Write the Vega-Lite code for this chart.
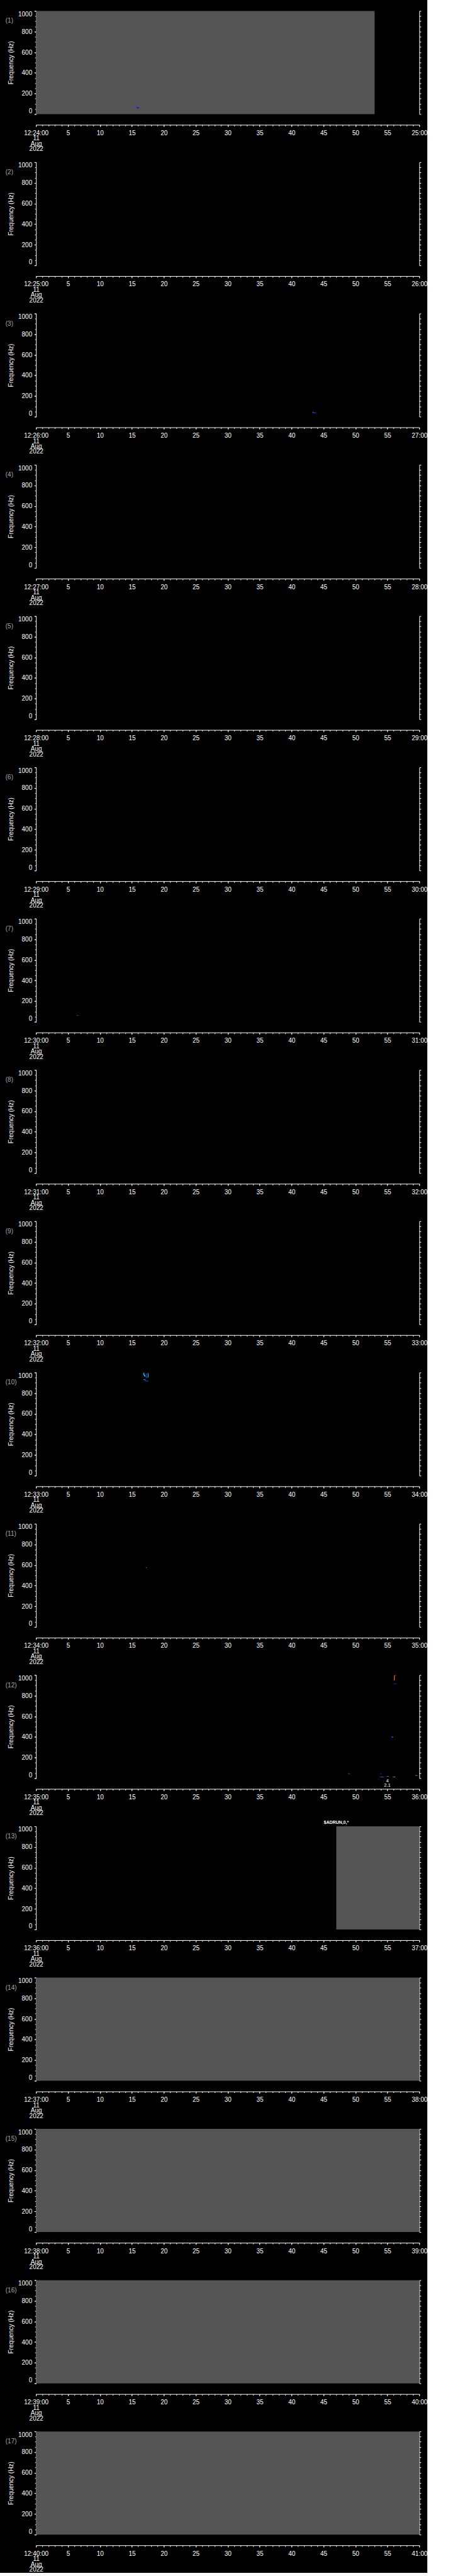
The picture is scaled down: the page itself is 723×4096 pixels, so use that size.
{
"$schema": "https://vega.github.io/schema/vega-lite/v6.json",
"background": "black",
"padding": {"left": 8.2, "top": 16.4, "right": 0, "bottom": 0},
"autosize": {"type": "pad"},
"config": {
 "view": {"continuousWidth": 609.1, "continuousHeight": 164, "stroke": null},
 "axis": {"domainColor": "#ffffff", "tickColor": "#ffffff", "labelColor": "#ffffff", "titleColor": "#ffffff", "labelFont": "Liberation Sans", "titleFont": "Liberation Sans", "labelFontSize": 10, "titleFontSize": 10, "titleFontWeight": "normal", "grid": false, "domainWidth": 1, "tickWidth": 1}
},
"datasets": {
 "cells": [
  {"p": 1, "t0": 0, "t1": 53.0, "f0": 0, "f1": 1000, "lv": "gap"},
  {"p": 1, "t0": 15.55, "t1": 15.85, "f0": 66, "f1": 73, "lv": "b"},
  {"p": 1, "t0": 15.75, "t1": 16.15, "f0": 58, "f1": 64, "lv": "db"},
  {"p": 3, "t0": 43.3, "t1": 43.45, "f0": 36, "f1": 48, "lv": "b"},
  {"p": 3, "t0": 43.3, "t1": 43.85, "f0": 34, "f1": 39, "lv": "b"},
  {"p": 7, "t0": 6.4, "t1": 6.55, "f0": 59, "f1": 64, "lv": "c"},
  {"p": 7, "t0": 6.55, "t1": 6.7, "f0": 59, "f1": 64, "lv": "db"},
  {"p": 10, "t0": 16.8, "t1": 16.95, "f0": 975, "f1": 997, "lv": "c"},
  {"p": 10, "t0": 16.9, "t1": 17.05, "f0": 965, "f1": 980, "lv": "c"},
  {"p": 10, "t0": 17.0, "t1": 17.1, "f0": 960, "f1": 970, "lv": "g"},
  {"p": 10, "t0": 17.2, "t1": 17.3, "f0": 950, "f1": 990, "lv": "b"},
  {"p": 10, "t0": 17.2, "t1": 17.5, "f0": 950, "f1": 956, "lv": "b"},
  {"p": 10, "t0": 17.5, "t1": 17.6, "f0": 952, "f1": 995, "lv": "c"},
  {"p": 10, "t0": 16.8, "t1": 17.1, "f0": 928, "f1": 934, "lv": "c"},
  {"p": 10, "t0": 17.1, "t1": 17.2, "f0": 916, "f1": 932, "lv": "b"},
  {"p": 10, "t0": 17.2, "t1": 17.6, "f0": 914, "f1": 920, "lv": "b"},
  {"p": 11, "t0": 17.2, "t1": 17.3, "f0": 571, "f1": 577, "lv": "o"},
  {"p": 11, "t0": 17.3, "t1": 17.45, "f0": 571, "f1": 577, "lv": "db"},
  {"p": 12, "t0": 56.05, "t1": 56.15, "f0": 950, "f1": 995, "lv": "o"},
  {"p": 12, "t0": 56.1, "t1": 56.35, "f0": 993, "f1": 1000, "lv": "r"},
  {"p": 12, "t0": 56.0, "t1": 56.08, "f0": 948, "f1": 953, "lv": "o"},
  {"p": 12, "t0": 56.0, "t1": 56.35, "f0": 913, "f1": 918, "lv": "b"},
  {"p": 12, "t0": 56.1, "t1": 56.2, "f0": 908, "f1": 914, "lv": "db"},
  {"p": 12, "t0": 55.65, "t1": 55.9, "f0": 396, "f1": 402, "lv": "c"},
  {"p": 12, "t0": 55.6, "t1": 55.7, "f0": 378, "f1": 398, "lv": "db"},
  {"p": 12, "t0": 48.9, "t1": 49.05, "f0": 42, "f1": 46, "lv": "g"},
  {"p": 12, "t0": 49.05, "t1": 49.2, "f0": 42, "f1": 46, "lv": "b"},
  {"p": 12, "t0": 53.85, "t1": 54.1, "f0": 42, "f1": 46, "lv": "b"},
  {"p": 12, "t0": 53.8, "t1": 53.95, "f0": 10, "f1": 15, "lv": "r"},
  {"p": 12, "t0": 53.95, "t1": 54.1, "f0": 10, "f1": 15, "lv": "b"},
  {"p": 12, "t0": 54.1, "t1": 54.3, "f0": 10, "f1": 15, "lv": "c"},
  {"p": 12, "t0": 54.3, "t1": 54.5, "f0": 10, "f1": 15, "lv": "b"},
  {"p": 12, "t0": 54.8, "t1": 55.0, "f0": 15, "f1": 19, "lv": "b"},
  {"p": 12, "t0": 55.0, "t1": 55.2, "f0": 15, "f1": 19, "lv": "y"},
  {"p": 12, "t0": 55.8, "t1": 56.0, "f0": 10, "f1": 15, "lv": "r"},
  {"p": 12, "t0": 56.0, "t1": 56.2, "f0": 10, "f1": 15, "lv": "y"},
  {"p": 12, "t0": 59.4, "t1": 59.55, "f0": 24, "f1": 28, "lv": "g"},
  {"p": 12, "t0": 59.55, "t1": 59.65, "f0": 24, "f1": 28, "lv": "y"},
  {"p": 12, "t0": 59.65, "t1": 59.8, "f0": 24, "f1": 28, "lv": "r"},
  {"p": 13, "t0": 47.0, "t1": 60, "f0": 0, "f1": 1000, "lv": "gap"},
  {"p": 14, "t0": 0, "t1": 60, "f0": 0, "f1": 1000, "lv": "gap"},
  {"p": 15, "t0": 0, "t1": 60, "f0": 0, "f1": 1000, "lv": "gap"},
  {"p": 16, "t0": 0, "t1": 60, "f0": 0, "f1": 1000, "lv": "gap"},
  {"p": 17, "t0": 0, "t1": 60, "f0": 0, "f1": 1000, "lv": "gap"}
 ],
 "panels": [
  {"p": 1, "label": "(1)"}, {"p": 2, "label": "(2)"}, {"p": 3, "label": "(3)"}, {"p": 4, "label": "(4)"},
  {"p": 5, "label": "(5)"}, {"p": 6, "label": "(6)"}, {"p": 7, "label": "(7)"}, {"p": 8, "label": "(8)"},
  {"p": 9, "label": "(9)"}, {"p": 10, "label": "(10)"}, {"p": 11, "label": "(11)"}, {"p": 12, "label": "(12)"},
  {"p": 13, "label": "(13)"}, {"p": 14, "label": "(14)"}, {"p": 15, "label": "(15)"}, {"p": 16, "label": "(16)"},
  {"p": 17, "label": "(17)"}
 ],
 "notes": [
  {"p": 12, "t": 55.0, "f": -30, "text": "4"},
  {"p": 12, "t": 55.0, "f": -70, "text": "2.1"},
  {"p": 13, "t": 47.0, "f": 1037, "text": "$ADRUN,0,*"}
 ]
},
"spacing": 76.55,
"bounds": "flush",
"vconcat": [
{"layer": [
 {"data": {"name": "cells"}, "transform": [{"filter": "datum.p == 1"}], "mark": "rect", "encoding": {
  "x": {"field": "t0", "type": "quantitative", "scale": {"domain": [0, 60], "nice": false, "zero": false}, "axis": {"orient": "bottom", "offset": 17, "values": [0,5,10,15,20,25,30,35,40,45,50,55,60], "tickSize": 3, "labelPadding": 5, "labelFlush": false, "labelOverlap": false, "labelBound": false, "labelBaseline": "top", "labelLineHeight": 8.5, "title": null, "labelExpr": "datum.value == 0 ? ['12:24:00','11','Aug','2022'] : datum.value == 60 ? '25:00' : datum.label"}},
  "x2": {"field": "t1"},
  "y": {"field": "f0", "type": "quantitative", "scale": {"domain": [0, 1000], "nice": false, "zero": false}, "axis": {"orient": "left", "format": "d", "values": [0,200,400,600,800,1000], "tickSize": 3, "labelPadding": 3.5, "labelFlush": true, "labelOverlap": false, "title": "Frequency (Hz)", "titleX": -40, "titleY": 82, "titleAngle": -90, "titleAlign": "center", "titleBaseline": "middle"}},
  "y2": {"field": "f1"},
  "color": {"field": "lv", "type": "nominal", "scale": {"domain": ["gap","db","b","c","g","y","o","r"], "range": ["#545454","#0000c8","#0058ff","#00c8ff","#70ff90","#ffe600","#ff9a00","#ff2000"]}, "legend": null}}},
 {"data": {"name": "panels"}, "transform": [{"filter": "datum.p == 1"}], "mark": {"type": "text", "align": "left", "baseline": "middle", "font": "Liberation Sans", "fontSize": 10, "color": "#a8a8a8"}, "encoding": {
  "text": {"field": "label"},
  "x": {"datum": -4.77, "type": "quantitative", "axis": {"orient": "bottom", "offset": 17, "tickCount": 60, "tickSize": 2, "labels": false, "domain": false, "title": null}},
  "y": {"datum": 902, "type": "quantitative", "axis": {"orient": "left", "tickCount": 20, "tickSize": 2, "labels": false, "domain": false, "title": null}}}},
 {"data": {"name": "panels"}, "transform": [{"filter": "datum.p == 1"}], "mark": {"type": "rule", "opacity": 0}, "encoding": {
  "y": {"datum": 0, "type": "quantitative", "axis": {"orient": "right", "tickCount": 20, "tickSize": 2.5, "labels": false, "domain": true, "title": null}}}}
], "resolve": {"axis": {"x": "independent", "y": "independent"}}},
{"layer": [
 {"data": {"name": "cells"}, "transform": [{"filter": "datum.p == 2"}], "mark": "rect", "encoding": {
  "x": {"field": "t0", "type": "quantitative", "scale": {"domain": [0, 60], "nice": false, "zero": false}, "axis": {"orient": "bottom", "offset": 17, "values": [0,5,10,15,20,25,30,35,40,45,50,55,60], "tickSize": 3, "labelPadding": 5, "labelFlush": false, "labelOverlap": false, "labelBound": false, "labelBaseline": "top", "labelLineHeight": 8.5, "title": null, "labelExpr": "datum.value == 0 ? ['12:25:00','11','Aug','2022'] : datum.value == 60 ? '26:00' : datum.label"}},
  "x2": {"field": "t1"},
  "y": {"field": "f0", "type": "quantitative", "scale": {"domain": [0, 1000], "nice": false, "zero": false}, "axis": {"orient": "left", "format": "d", "values": [0,200,400,600,800,1000], "tickSize": 3, "labelPadding": 3.5, "labelFlush": true, "labelOverlap": false, "title": "Frequency (Hz)", "titleX": -40, "titleY": 82, "titleAngle": -90, "titleAlign": "center", "titleBaseline": "middle"}},
  "y2": {"field": "f1"},
  "color": {"field": "lv", "type": "nominal", "scale": {"domain": ["gap","db","b","c","g","y","o","r"], "range": ["#545454","#0000c8","#0058ff","#00c8ff","#70ff90","#ffe600","#ff9a00","#ff2000"]}, "legend": null}}},
 {"data": {"name": "panels"}, "transform": [{"filter": "datum.p == 2"}], "mark": {"type": "text", "align": "left", "baseline": "middle", "font": "Liberation Sans", "fontSize": 10, "color": "#a8a8a8"}, "encoding": {
  "text": {"field": "label"},
  "x": {"datum": -4.77, "type": "quantitative", "axis": {"orient": "bottom", "offset": 17, "tickCount": 60, "tickSize": 2, "labels": false, "domain": false, "title": null}},
  "y": {"datum": 902, "type": "quantitative", "axis": {"orient": "left", "tickCount": 20, "tickSize": 2, "labels": false, "domain": false, "title": null}}}},
 {"data": {"name": "panels"}, "transform": [{"filter": "datum.p == 2"}], "mark": {"type": "rule", "opacity": 0}, "encoding": {
  "y": {"datum": 0, "type": "quantitative", "axis": {"orient": "right", "tickCount": 20, "tickSize": 2.5, "labels": false, "domain": true, "title": null}}}}
], "resolve": {"axis": {"x": "independent", "y": "independent"}}},
{"layer": [
 {"data": {"name": "cells"}, "transform": [{"filter": "datum.p == 3"}], "mark": "rect", "encoding": {
  "x": {"field": "t0", "type": "quantitative", "scale": {"domain": [0, 60], "nice": false, "zero": false}, "axis": {"orient": "bottom", "offset": 17, "values": [0,5,10,15,20,25,30,35,40,45,50,55,60], "tickSize": 3, "labelPadding": 5, "labelFlush": false, "labelOverlap": false, "labelBound": false, "labelBaseline": "top", "labelLineHeight": 8.5, "title": null, "labelExpr": "datum.value == 0 ? ['12:26:00','11','Aug','2022'] : datum.value == 60 ? '27:00' : datum.label"}},
  "x2": {"field": "t1"},
  "y": {"field": "f0", "type": "quantitative", "scale": {"domain": [0, 1000], "nice": false, "zero": false}, "axis": {"orient": "left", "format": "d", "values": [0,200,400,600,800,1000], "tickSize": 3, "labelPadding": 3.5, "labelFlush": true, "labelOverlap": false, "title": "Frequency (Hz)", "titleX": -40, "titleY": 82, "titleAngle": -90, "titleAlign": "center", "titleBaseline": "middle"}},
  "y2": {"field": "f1"},
  "color": {"field": "lv", "type": "nominal", "scale": {"domain": ["gap","db","b","c","g","y","o","r"], "range": ["#545454","#0000c8","#0058ff","#00c8ff","#70ff90","#ffe600","#ff9a00","#ff2000"]}, "legend": null}}},
 {"data": {"name": "panels"}, "transform": [{"filter": "datum.p == 3"}], "mark": {"type": "text", "align": "left", "baseline": "middle", "font": "Liberation Sans", "fontSize": 10, "color": "#a8a8a8"}, "encoding": {
  "text": {"field": "label"},
  "x": {"datum": -4.77, "type": "quantitative", "axis": {"orient": "bottom", "offset": 17, "tickCount": 60, "tickSize": 2, "labels": false, "domain": false, "title": null}},
  "y": {"datum": 902, "type": "quantitative", "axis": {"orient": "left", "tickCount": 20, "tickSize": 2, "labels": false, "domain": false, "title": null}}}},
 {"data": {"name": "panels"}, "transform": [{"filter": "datum.p == 3"}], "mark": {"type": "rule", "opacity": 0}, "encoding": {
  "y": {"datum": 0, "type": "quantitative", "axis": {"orient": "right", "tickCount": 20, "tickSize": 2.5, "labels": false, "domain": true, "title": null}}}}
], "resolve": {"axis": {"x": "independent", "y": "independent"}}},
{"layer": [
 {"data": {"name": "cells"}, "transform": [{"filter": "datum.p == 4"}], "mark": "rect", "encoding": {
  "x": {"field": "t0", "type": "quantitative", "scale": {"domain": [0, 60], "nice": false, "zero": false}, "axis": {"orient": "bottom", "offset": 17, "values": [0,5,10,15,20,25,30,35,40,45,50,55,60], "tickSize": 3, "labelPadding": 5, "labelFlush": false, "labelOverlap": false, "labelBound": false, "labelBaseline": "top", "labelLineHeight": 8.5, "title": null, "labelExpr": "datum.value == 0 ? ['12:27:00','11','Aug','2022'] : datum.value == 60 ? '28:00' : datum.label"}},
  "x2": {"field": "t1"},
  "y": {"field": "f0", "type": "quantitative", "scale": {"domain": [0, 1000], "nice": false, "zero": false}, "axis": {"orient": "left", "format": "d", "values": [0,200,400,600,800,1000], "tickSize": 3, "labelPadding": 3.5, "labelFlush": true, "labelOverlap": false, "title": "Frequency (Hz)", "titleX": -40, "titleY": 82, "titleAngle": -90, "titleAlign": "center", "titleBaseline": "middle"}},
  "y2": {"field": "f1"},
  "color": {"field": "lv", "type": "nominal", "scale": {"domain": ["gap","db","b","c","g","y","o","r"], "range": ["#545454","#0000c8","#0058ff","#00c8ff","#70ff90","#ffe600","#ff9a00","#ff2000"]}, "legend": null}}},
 {"data": {"name": "panels"}, "transform": [{"filter": "datum.p == 4"}], "mark": {"type": "text", "align": "left", "baseline": "middle", "font": "Liberation Sans", "fontSize": 10, "color": "#a8a8a8"}, "encoding": {
  "text": {"field": "label"},
  "x": {"datum": -4.77, "type": "quantitative", "axis": {"orient": "bottom", "offset": 17, "tickCount": 60, "tickSize": 2, "labels": false, "domain": false, "title": null}},
  "y": {"datum": 902, "type": "quantitative", "axis": {"orient": "left", "tickCount": 20, "tickSize": 2, "labels": false, "domain": false, "title": null}}}},
 {"data": {"name": "panels"}, "transform": [{"filter": "datum.p == 4"}], "mark": {"type": "rule", "opacity": 0}, "encoding": {
  "y": {"datum": 0, "type": "quantitative", "axis": {"orient": "right", "tickCount": 20, "tickSize": 2.5, "labels": false, "domain": true, "title": null}}}}
], "resolve": {"axis": {"x": "independent", "y": "independent"}}},
{"layer": [
 {"data": {"name": "cells"}, "transform": [{"filter": "datum.p == 5"}], "mark": "rect", "encoding": {
  "x": {"field": "t0", "type": "quantitative", "scale": {"domain": [0, 60], "nice": false, "zero": false}, "axis": {"orient": "bottom", "offset": 17, "values": [0,5,10,15,20,25,30,35,40,45,50,55,60], "tickSize": 3, "labelPadding": 5, "labelFlush": false, "labelOverlap": false, "labelBound": false, "labelBaseline": "top", "labelLineHeight": 8.5, "title": null, "labelExpr": "datum.value == 0 ? ['12:28:00','11','Aug','2022'] : datum.value == 60 ? '29:00' : datum.label"}},
  "x2": {"field": "t1"},
  "y": {"field": "f0", "type": "quantitative", "scale": {"domain": [0, 1000], "nice": false, "zero": false}, "axis": {"orient": "left", "format": "d", "values": [0,200,400,600,800,1000], "tickSize": 3, "labelPadding": 3.5, "labelFlush": true, "labelOverlap": false, "title": "Frequency (Hz)", "titleX": -40, "titleY": 82, "titleAngle": -90, "titleAlign": "center", "titleBaseline": "middle"}},
  "y2": {"field": "f1"},
  "color": {"field": "lv", "type": "nominal", "scale": {"domain": ["gap","db","b","c","g","y","o","r"], "range": ["#545454","#0000c8","#0058ff","#00c8ff","#70ff90","#ffe600","#ff9a00","#ff2000"]}, "legend": null}}},
 {"data": {"name": "panels"}, "transform": [{"filter": "datum.p == 5"}], "mark": {"type": "text", "align": "left", "baseline": "middle", "font": "Liberation Sans", "fontSize": 10, "color": "#a8a8a8"}, "encoding": {
  "text": {"field": "label"},
  "x": {"datum": -4.77, "type": "quantitative", "axis": {"orient": "bottom", "offset": 17, "tickCount": 60, "tickSize": 2, "labels": false, "domain": false, "title": null}},
  "y": {"datum": 902, "type": "quantitative", "axis": {"orient": "left", "tickCount": 20, "tickSize": 2, "labels": false, "domain": false, "title": null}}}},
 {"data": {"name": "panels"}, "transform": [{"filter": "datum.p == 5"}], "mark": {"type": "rule", "opacity": 0}, "encoding": {
  "y": {"datum": 0, "type": "quantitative", "axis": {"orient": "right", "tickCount": 20, "tickSize": 2.5, "labels": false, "domain": true, "title": null}}}}
], "resolve": {"axis": {"x": "independent", "y": "independent"}}},
{"layer": [
 {"data": {"name": "cells"}, "transform": [{"filter": "datum.p == 6"}], "mark": "rect", "encoding": {
  "x": {"field": "t0", "type": "quantitative", "scale": {"domain": [0, 60], "nice": false, "zero": false}, "axis": {"orient": "bottom", "offset": 17, "values": [0,5,10,15,20,25,30,35,40,45,50,55,60], "tickSize": 3, "labelPadding": 5, "labelFlush": false, "labelOverlap": false, "labelBound": false, "labelBaseline": "top", "labelLineHeight": 8.5, "title": null, "labelExpr": "datum.value == 0 ? ['12:29:00','11','Aug','2022'] : datum.value == 60 ? '30:00' : datum.label"}},
  "x2": {"field": "t1"},
  "y": {"field": "f0", "type": "quantitative", "scale": {"domain": [0, 1000], "nice": false, "zero": false}, "axis": {"orient": "left", "format": "d", "values": [0,200,400,600,800,1000], "tickSize": 3, "labelPadding": 3.5, "labelFlush": true, "labelOverlap": false, "title": "Frequency (Hz)", "titleX": -40, "titleY": 82, "titleAngle": -90, "titleAlign": "center", "titleBaseline": "middle"}},
  "y2": {"field": "f1"},
  "color": {"field": "lv", "type": "nominal", "scale": {"domain": ["gap","db","b","c","g","y","o","r"], "range": ["#545454","#0000c8","#0058ff","#00c8ff","#70ff90","#ffe600","#ff9a00","#ff2000"]}, "legend": null}}},
 {"data": {"name": "panels"}, "transform": [{"filter": "datum.p == 6"}], "mark": {"type": "text", "align": "left", "baseline": "middle", "font": "Liberation Sans", "fontSize": 10, "color": "#a8a8a8"}, "encoding": {
  "text": {"field": "label"},
  "x": {"datum": -4.77, "type": "quantitative", "axis": {"orient": "bottom", "offset": 17, "tickCount": 60, "tickSize": 2, "labels": false, "domain": false, "title": null}},
  "y": {"datum": 902, "type": "quantitative", "axis": {"orient": "left", "tickCount": 20, "tickSize": 2, "labels": false, "domain": false, "title": null}}}},
 {"data": {"name": "panels"}, "transform": [{"filter": "datum.p == 6"}], "mark": {"type": "rule", "opacity": 0}, "encoding": {
  "y": {"datum": 0, "type": "quantitative", "axis": {"orient": "right", "tickCount": 20, "tickSize": 2.5, "labels": false, "domain": true, "title": null}}}}
], "resolve": {"axis": {"x": "independent", "y": "independent"}}},
{"layer": [
 {"data": {"name": "cells"}, "transform": [{"filter": "datum.p == 7"}], "mark": "rect", "encoding": {
  "x": {"field": "t0", "type": "quantitative", "scale": {"domain": [0, 60], "nice": false, "zero": false}, "axis": {"orient": "bottom", "offset": 17, "values": [0,5,10,15,20,25,30,35,40,45,50,55,60], "tickSize": 3, "labelPadding": 5, "labelFlush": false, "labelOverlap": false, "labelBound": false, "labelBaseline": "top", "labelLineHeight": 8.5, "title": null, "labelExpr": "datum.value == 0 ? ['12:30:00','11','Aug','2022'] : datum.value == 60 ? '31:00' : datum.label"}},
  "x2": {"field": "t1"},
  "y": {"field": "f0", "type": "quantitative", "scale": {"domain": [0, 1000], "nice": false, "zero": false}, "axis": {"orient": "left", "format": "d", "values": [0,200,400,600,800,1000], "tickSize": 3, "labelPadding": 3.5, "labelFlush": true, "labelOverlap": false, "title": "Frequency (Hz)", "titleX": -40, "titleY": 82, "titleAngle": -90, "titleAlign": "center", "titleBaseline": "middle"}},
  "y2": {"field": "f1"},
  "color": {"field": "lv", "type": "nominal", "scale": {"domain": ["gap","db","b","c","g","y","o","r"], "range": ["#545454","#0000c8","#0058ff","#00c8ff","#70ff90","#ffe600","#ff9a00","#ff2000"]}, "legend": null}}},
 {"data": {"name": "panels"}, "transform": [{"filter": "datum.p == 7"}], "mark": {"type": "text", "align": "left", "baseline": "middle", "font": "Liberation Sans", "fontSize": 10, "color": "#a8a8a8"}, "encoding": {
  "text": {"field": "label"},
  "x": {"datum": -4.77, "type": "quantitative", "axis": {"orient": "bottom", "offset": 17, "tickCount": 60, "tickSize": 2, "labels": false, "domain": false, "title": null}},
  "y": {"datum": 902, "type": "quantitative", "axis": {"orient": "left", "tickCount": 20, "tickSize": 2, "labels": false, "domain": false, "title": null}}}},
 {"data": {"name": "panels"}, "transform": [{"filter": "datum.p == 7"}], "mark": {"type": "rule", "opacity": 0}, "encoding": {
  "y": {"datum": 0, "type": "quantitative", "axis": {"orient": "right", "tickCount": 20, "tickSize": 2.5, "labels": false, "domain": true, "title": null}}}}
], "resolve": {"axis": {"x": "independent", "y": "independent"}}},
{"layer": [
 {"data": {"name": "cells"}, "transform": [{"filter": "datum.p == 8"}], "mark": "rect", "encoding": {
  "x": {"field": "t0", "type": "quantitative", "scale": {"domain": [0, 60], "nice": false, "zero": false}, "axis": {"orient": "bottom", "offset": 17, "values": [0,5,10,15,20,25,30,35,40,45,50,55,60], "tickSize": 3, "labelPadding": 5, "labelFlush": false, "labelOverlap": false, "labelBound": false, "labelBaseline": "top", "labelLineHeight": 8.5, "title": null, "labelExpr": "datum.value == 0 ? ['12:31:00','11','Aug','2022'] : datum.value == 60 ? '32:00' : datum.label"}},
  "x2": {"field": "t1"},
  "y": {"field": "f0", "type": "quantitative", "scale": {"domain": [0, 1000], "nice": false, "zero": false}, "axis": {"orient": "left", "format": "d", "values": [0,200,400,600,800,1000], "tickSize": 3, "labelPadding": 3.5, "labelFlush": true, "labelOverlap": false, "title": "Frequency (Hz)", "titleX": -40, "titleY": 82, "titleAngle": -90, "titleAlign": "center", "titleBaseline": "middle"}},
  "y2": {"field": "f1"},
  "color": {"field": "lv", "type": "nominal", "scale": {"domain": ["gap","db","b","c","g","y","o","r"], "range": ["#545454","#0000c8","#0058ff","#00c8ff","#70ff90","#ffe600","#ff9a00","#ff2000"]}, "legend": null}}},
 {"data": {"name": "panels"}, "transform": [{"filter": "datum.p == 8"}], "mark": {"type": "text", "align": "left", "baseline": "middle", "font": "Liberation Sans", "fontSize": 10, "color": "#a8a8a8"}, "encoding": {
  "text": {"field": "label"},
  "x": {"datum": -4.77, "type": "quantitative", "axis": {"orient": "bottom", "offset": 17, "tickCount": 60, "tickSize": 2, "labels": false, "domain": false, "title": null}},
  "y": {"datum": 902, "type": "quantitative", "axis": {"orient": "left", "tickCount": 20, "tickSize": 2, "labels": false, "domain": false, "title": null}}}},
 {"data": {"name": "panels"}, "transform": [{"filter": "datum.p == 8"}], "mark": {"type": "rule", "opacity": 0}, "encoding": {
  "y": {"datum": 0, "type": "quantitative", "axis": {"orient": "right", "tickCount": 20, "tickSize": 2.5, "labels": false, "domain": true, "title": null}}}}
], "resolve": {"axis": {"x": "independent", "y": "independent"}}},
{"layer": [
 {"data": {"name": "cells"}, "transform": [{"filter": "datum.p == 9"}], "mark": "rect", "encoding": {
  "x": {"field": "t0", "type": "quantitative", "scale": {"domain": [0, 60], "nice": false, "zero": false}, "axis": {"orient": "bottom", "offset": 17, "values": [0,5,10,15,20,25,30,35,40,45,50,55,60], "tickSize": 3, "labelPadding": 5, "labelFlush": false, "labelOverlap": false, "labelBound": false, "labelBaseline": "top", "labelLineHeight": 8.5, "title": null, "labelExpr": "datum.value == 0 ? ['12:32:00','11','Aug','2022'] : datum.value == 60 ? '33:00' : datum.label"}},
  "x2": {"field": "t1"},
  "y": {"field": "f0", "type": "quantitative", "scale": {"domain": [0, 1000], "nice": false, "zero": false}, "axis": {"orient": "left", "format": "d", "values": [0,200,400,600,800,1000], "tickSize": 3, "labelPadding": 3.5, "labelFlush": true, "labelOverlap": false, "title": "Frequency (Hz)", "titleX": -40, "titleY": 82, "titleAngle": -90, "titleAlign": "center", "titleBaseline": "middle"}},
  "y2": {"field": "f1"},
  "color": {"field": "lv", "type": "nominal", "scale": {"domain": ["gap","db","b","c","g","y","o","r"], "range": ["#545454","#0000c8","#0058ff","#00c8ff","#70ff90","#ffe600","#ff9a00","#ff2000"]}, "legend": null}}},
 {"data": {"name": "panels"}, "transform": [{"filter": "datum.p == 9"}], "mark": {"type": "text", "align": "left", "baseline": "middle", "font": "Liberation Sans", "fontSize": 10, "color": "#a8a8a8"}, "encoding": {
  "text": {"field": "label"},
  "x": {"datum": -4.77, "type": "quantitative", "axis": {"orient": "bottom", "offset": 17, "tickCount": 60, "tickSize": 2, "labels": false, "domain": false, "title": null}},
  "y": {"datum": 902, "type": "quantitative", "axis": {"orient": "left", "tickCount": 20, "tickSize": 2, "labels": false, "domain": false, "title": null}}}},
 {"data": {"name": "panels"}, "transform": [{"filter": "datum.p == 9"}], "mark": {"type": "rule", "opacity": 0}, "encoding": {
  "y": {"datum": 0, "type": "quantitative", "axis": {"orient": "right", "tickCount": 20, "tickSize": 2.5, "labels": false, "domain": true, "title": null}}}}
], "resolve": {"axis": {"x": "independent", "y": "independent"}}},
{"layer": [
 {"data": {"name": "cells"}, "transform": [{"filter": "datum.p == 10"}], "mark": "rect", "encoding": {
  "x": {"field": "t0", "type": "quantitative", "scale": {"domain": [0, 60], "nice": false, "zero": false}, "axis": {"orient": "bottom", "offset": 17, "values": [0,5,10,15,20,25,30,35,40,45,50,55,60], "tickSize": 3, "labelPadding": 5, "labelFlush": false, "labelOverlap": false, "labelBound": false, "labelBaseline": "top", "labelLineHeight": 8.5, "title": null, "labelExpr": "datum.value == 0 ? ['12:33:00','11','Aug','2022'] : datum.value == 60 ? '34:00' : datum.label"}},
  "x2": {"field": "t1"},
  "y": {"field": "f0", "type": "quantitative", "scale": {"domain": [0, 1000], "nice": false, "zero": false}, "axis": {"orient": "left", "format": "d", "values": [0,200,400,600,800,1000], "tickSize": 3, "labelPadding": 3.5, "labelFlush": true, "labelOverlap": false, "title": "Frequency (Hz)", "titleX": -40, "titleY": 82, "titleAngle": -90, "titleAlign": "center", "titleBaseline": "middle"}},
  "y2": {"field": "f1"},
  "color": {"field": "lv", "type": "nominal", "scale": {"domain": ["gap","db","b","c","g","y","o","r"], "range": ["#545454","#0000c8","#0058ff","#00c8ff","#70ff90","#ffe600","#ff9a00","#ff2000"]}, "legend": null}}},
 {"data": {"name": "panels"}, "transform": [{"filter": "datum.p == 10"}], "mark": {"type": "text", "align": "left", "baseline": "middle", "font": "Liberation Sans", "fontSize": 10, "color": "#a8a8a8"}, "encoding": {
  "text": {"field": "label"},
  "x": {"datum": -4.77, "type": "quantitative", "axis": {"orient": "bottom", "offset": 17, "tickCount": 60, "tickSize": 2, "labels": false, "domain": false, "title": null}},
  "y": {"datum": 902, "type": "quantitative", "axis": {"orient": "left", "tickCount": 20, "tickSize": 2, "labels": false, "domain": false, "title": null}}}},
 {"data": {"name": "panels"}, "transform": [{"filter": "datum.p == 10"}], "mark": {"type": "rule", "opacity": 0}, "encoding": {
  "y": {"datum": 0, "type": "quantitative", "axis": {"orient": "right", "tickCount": 20, "tickSize": 2.5, "labels": false, "domain": true, "title": null}}}}
], "resolve": {"axis": {"x": "independent", "y": "independent"}}},
{"layer": [
 {"data": {"name": "cells"}, "transform": [{"filter": "datum.p == 11"}], "mark": "rect", "encoding": {
  "x": {"field": "t0", "type": "quantitative", "scale": {"domain": [0, 60], "nice": false, "zero": false}, "axis": {"orient": "bottom", "offset": 17, "values": [0,5,10,15,20,25,30,35,40,45,50,55,60], "tickSize": 3, "labelPadding": 5, "labelFlush": false, "labelOverlap": false, "labelBound": false, "labelBaseline": "top", "labelLineHeight": 8.5, "title": null, "labelExpr": "datum.value == 0 ? ['12:34:00','11','Aug','2022'] : datum.value == 60 ? '35:00' : datum.label"}},
  "x2": {"field": "t1"},
  "y": {"field": "f0", "type": "quantitative", "scale": {"domain": [0, 1000], "nice": false, "zero": false}, "axis": {"orient": "left", "format": "d", "values": [0,200,400,600,800,1000], "tickSize": 3, "labelPadding": 3.5, "labelFlush": true, "labelOverlap": false, "title": "Frequency (Hz)", "titleX": -40, "titleY": 82, "titleAngle": -90, "titleAlign": "center", "titleBaseline": "middle"}},
  "y2": {"field": "f1"},
  "color": {"field": "lv", "type": "nominal", "scale": {"domain": ["gap","db","b","c","g","y","o","r"], "range": ["#545454","#0000c8","#0058ff","#00c8ff","#70ff90","#ffe600","#ff9a00","#ff2000"]}, "legend": null}}},
 {"data": {"name": "panels"}, "transform": [{"filter": "datum.p == 11"}], "mark": {"type": "text", "align": "left", "baseline": "middle", "font": "Liberation Sans", "fontSize": 10, "color": "#a8a8a8"}, "encoding": {
  "text": {"field": "label"},
  "x": {"datum": -4.77, "type": "quantitative", "axis": {"orient": "bottom", "offset": 17, "tickCount": 60, "tickSize": 2, "labels": false, "domain": false, "title": null}},
  "y": {"datum": 902, "type": "quantitative", "axis": {"orient": "left", "tickCount": 20, "tickSize": 2, "labels": false, "domain": false, "title": null}}}},
 {"data": {"name": "panels"}, "transform": [{"filter": "datum.p == 11"}], "mark": {"type": "rule", "opacity": 0}, "encoding": {
  "y": {"datum": 0, "type": "quantitative", "axis": {"orient": "right", "tickCount": 20, "tickSize": 2.5, "labels": false, "domain": true, "title": null}}}}
], "resolve": {"axis": {"x": "independent", "y": "independent"}}},
{"layer": [
 {"data": {"name": "cells"}, "transform": [{"filter": "datum.p == 12"}], "mark": "rect", "encoding": {
  "x": {"field": "t0", "type": "quantitative", "scale": {"domain": [0, 60], "nice": false, "zero": false}, "axis": {"orient": "bottom", "offset": 17, "values": [0,5,10,15,20,25,30,35,40,45,50,55,60], "tickSize": 3, "labelPadding": 5, "labelFlush": false, "labelOverlap": false, "labelBound": false, "labelBaseline": "top", "labelLineHeight": 8.5, "title": null, "labelExpr": "datum.value == 0 ? ['12:35:00','11','Aug','2022'] : datum.value == 60 ? '36:00' : datum.label"}},
  "x2": {"field": "t1"},
  "y": {"field": "f0", "type": "quantitative", "scale": {"domain": [0, 1000], "nice": false, "zero": false}, "axis": {"orient": "left", "format": "d", "values": [0,200,400,600,800,1000], "tickSize": 3, "labelPadding": 3.5, "labelFlush": true, "labelOverlap": false, "title": "Frequency (Hz)", "titleX": -40, "titleY": 82, "titleAngle": -90, "titleAlign": "center", "titleBaseline": "middle"}},
  "y2": {"field": "f1"},
  "color": {"field": "lv", "type": "nominal", "scale": {"domain": ["gap","db","b","c","g","y","o","r"], "range": ["#545454","#0000c8","#0058ff","#00c8ff","#70ff90","#ffe600","#ff9a00","#ff2000"]}, "legend": null}}},
 {"data": {"name": "panels"}, "transform": [{"filter": "datum.p == 12"}], "mark": {"type": "text", "align": "left", "baseline": "middle", "font": "Liberation Sans", "fontSize": 10, "color": "#a8a8a8"}, "encoding": {
  "text": {"field": "label"},
  "x": {"datum": -4.77, "type": "quantitative", "axis": {"orient": "bottom", "offset": 17, "tickCount": 60, "tickSize": 2, "labels": false, "domain": false, "title": null}},
  "y": {"datum": 902, "type": "quantitative", "axis": {"orient": "left", "tickCount": 20, "tickSize": 2, "labels": false, "domain": false, "title": null}}}},
 {"data": {"name": "panels"}, "transform": [{"filter": "datum.p == 12"}], "mark": {"type": "rule", "opacity": 0}, "encoding": {
  "y": {"datum": 0, "type": "quantitative", "axis": {"orient": "right", "tickCount": 20, "tickSize": 2.5, "labels": false, "domain": true, "title": null}}}},
 {"data": {"name": "notes"}, "transform": [{"filter": "datum.p == 12"}], "mark": {"type": "text", "align": "center", "baseline": "middle", "font": "Liberation Sans", "fontSize": 7.5, "color": "#ffffff"}, "encoding": {
  "text": {"field": "text"},
  "x": {"field": "t", "type": "quantitative", "axis": null},
  "y": {"field": "f", "type": "quantitative", "axis": null}}}
], "resolve": {"axis": {"x": "independent", "y": "independent"}}},
{"layer": [
 {"data": {"name": "cells"}, "transform": [{"filter": "datum.p == 13"}], "mark": "rect", "encoding": {
  "x": {"field": "t0", "type": "quantitative", "scale": {"domain": [0, 60], "nice": false, "zero": false}, "axis": {"orient": "bottom", "offset": 17, "values": [0,5,10,15,20,25,30,35,40,45,50,55,60], "tickSize": 3, "labelPadding": 5, "labelFlush": false, "labelOverlap": false, "labelBound": false, "labelBaseline": "top", "labelLineHeight": 8.5, "title": null, "labelExpr": "datum.value == 0 ? ['12:36:00','11','Aug','2022'] : datum.value == 60 ? '37:00' : datum.label"}},
  "x2": {"field": "t1"},
  "y": {"field": "f0", "type": "quantitative", "scale": {"domain": [0, 1000], "nice": false, "zero": false}, "axis": {"orient": "left", "format": "d", "values": [0,200,400,600,800,1000], "tickSize": 3, "labelPadding": 3.5, "labelFlush": true, "labelOverlap": false, "title": "Frequency (Hz)", "titleX": -40, "titleY": 82, "titleAngle": -90, "titleAlign": "center", "titleBaseline": "middle"}},
  "y2": {"field": "f1"},
  "color": {"field": "lv", "type": "nominal", "scale": {"domain": ["gap","db","b","c","g","y","o","r"], "range": ["#545454","#0000c8","#0058ff","#00c8ff","#70ff90","#ffe600","#ff9a00","#ff2000"]}, "legend": null}}},
 {"data": {"name": "panels"}, "transform": [{"filter": "datum.p == 13"}], "mark": {"type": "text", "align": "left", "baseline": "middle", "font": "Liberation Sans", "fontSize": 10, "color": "#a8a8a8"}, "encoding": {
  "text": {"field": "label"},
  "x": {"datum": -4.77, "type": "quantitative", "axis": {"orient": "bottom", "offset": 17, "tickCount": 60, "tickSize": 2, "labels": false, "domain": false, "title": null}},
  "y": {"datum": 902, "type": "quantitative", "axis": {"orient": "left", "tickCount": 20, "tickSize": 2, "labels": false, "domain": false, "title": null}}}},
 {"data": {"name": "panels"}, "transform": [{"filter": "datum.p == 13"}], "mark": {"type": "rule", "opacity": 0}, "encoding": {
  "y": {"datum": 0, "type": "quantitative", "axis": {"orient": "right", "tickCount": 20, "tickSize": 2.5, "labels": false, "domain": true, "title": null}}}},
 {"data": {"name": "notes"}, "transform": [{"filter": "datum.p == 13"}], "mark": {"type": "text", "align": "center", "baseline": "middle", "font": "Liberation Sans", "fontSize": 7, "fontWeight": "bold", "color": "#ffffff"}, "encoding": {
  "text": {"field": "text"},
  "x": {"field": "t", "type": "quantitative", "axis": null},
  "y": {"field": "f", "type": "quantitative", "axis": null}}}
], "resolve": {"axis": {"x": "independent", "y": "independent"}}},
{"layer": [
 {"data": {"name": "cells"}, "transform": [{"filter": "datum.p == 14"}], "mark": "rect", "encoding": {
  "x": {"field": "t0", "type": "quantitative", "scale": {"domain": [0, 60], "nice": false, "zero": false}, "axis": {"orient": "bottom", "offset": 17, "values": [0,5,10,15,20,25,30,35,40,45,50,55,60], "tickSize": 3, "labelPadding": 5, "labelFlush": false, "labelOverlap": false, "labelBound": false, "labelBaseline": "top", "labelLineHeight": 8.5, "title": null, "labelExpr": "datum.value == 0 ? ['12:37:00','11','Aug','2022'] : datum.value == 60 ? '38:00' : datum.label"}},
  "x2": {"field": "t1"},
  "y": {"field": "f0", "type": "quantitative", "scale": {"domain": [0, 1000], "nice": false, "zero": false}, "axis": {"orient": "left", "format": "d", "values": [0,200,400,600,800,1000], "tickSize": 3, "labelPadding": 3.5, "labelFlush": true, "labelOverlap": false, "title": "Frequency (Hz)", "titleX": -40, "titleY": 82, "titleAngle": -90, "titleAlign": "center", "titleBaseline": "middle"}},
  "y2": {"field": "f1"},
  "color": {"field": "lv", "type": "nominal", "scale": {"domain": ["gap","db","b","c","g","y","o","r"], "range": ["#545454","#0000c8","#0058ff","#00c8ff","#70ff90","#ffe600","#ff9a00","#ff2000"]}, "legend": null}}},
 {"data": {"name": "panels"}, "transform": [{"filter": "datum.p == 14"}], "mark": {"type": "text", "align": "left", "baseline": "middle", "font": "Liberation Sans", "fontSize": 10, "color": "#a8a8a8"}, "encoding": {
  "text": {"field": "label"},
  "x": {"datum": -4.77, "type": "quantitative", "axis": {"orient": "bottom", "offset": 17, "tickCount": 60, "tickSize": 2, "labels": false, "domain": false, "title": null}},
  "y": {"datum": 902, "type": "quantitative", "axis": {"orient": "left", "tickCount": 20, "tickSize": 2, "labels": false, "domain": false, "title": null}}}},
 {"data": {"name": "panels"}, "transform": [{"filter": "datum.p == 14"}], "mark": {"type": "rule", "opacity": 0}, "encoding": {
  "y": {"datum": 0, "type": "quantitative", "axis": {"orient": "right", "tickCount": 20, "tickSize": 2.5, "labels": false, "domain": true, "title": null}}}}
], "resolve": {"axis": {"x": "independent", "y": "independent"}}},
{"layer": [
 {"data": {"name": "cells"}, "transform": [{"filter": "datum.p == 15"}], "mark": "rect", "encoding": {
  "x": {"field": "t0", "type": "quantitative", "scale": {"domain": [0, 60], "nice": false, "zero": false}, "axis": {"orient": "bottom", "offset": 17, "values": [0,5,10,15,20,25,30,35,40,45,50,55,60], "tickSize": 3, "labelPadding": 5, "labelFlush": false, "labelOverlap": false, "labelBound": false, "labelBaseline": "top", "labelLineHeight": 8.5, "title": null, "labelExpr": "datum.value == 0 ? ['12:38:00','11','Aug','2022'] : datum.value == 60 ? '39:00' : datum.label"}},
  "x2": {"field": "t1"},
  "y": {"field": "f0", "type": "quantitative", "scale": {"domain": [0, 1000], "nice": false, "zero": false}, "axis": {"orient": "left", "format": "d", "values": [0,200,400,600,800,1000], "tickSize": 3, "labelPadding": 3.5, "labelFlush": true, "labelOverlap": false, "title": "Frequency (Hz)", "titleX": -40, "titleY": 82, "titleAngle": -90, "titleAlign": "center", "titleBaseline": "middle"}},
  "y2": {"field": "f1"},
  "color": {"field": "lv", "type": "nominal", "scale": {"domain": ["gap","db","b","c","g","y","o","r"], "range": ["#545454","#0000c8","#0058ff","#00c8ff","#70ff90","#ffe600","#ff9a00","#ff2000"]}, "legend": null}}},
 {"data": {"name": "panels"}, "transform": [{"filter": "datum.p == 15"}], "mark": {"type": "text", "align": "left", "baseline": "middle", "font": "Liberation Sans", "fontSize": 10, "color": "#a8a8a8"}, "encoding": {
  "text": {"field": "label"},
  "x": {"datum": -4.77, "type": "quantitative", "axis": {"orient": "bottom", "offset": 17, "tickCount": 60, "tickSize": 2, "labels": false, "domain": false, "title": null}},
  "y": {"datum": 902, "type": "quantitative", "axis": {"orient": "left", "tickCount": 20, "tickSize": 2, "labels": false, "domain": false, "title": null}}}},
 {"data": {"name": "panels"}, "transform": [{"filter": "datum.p == 15"}], "mark": {"type": "rule", "opacity": 0}, "encoding": {
  "y": {"datum": 0, "type": "quantitative", "axis": {"orient": "right", "tickCount": 20, "tickSize": 2.5, "labels": false, "domain": true, "title": null}}}}
], "resolve": {"axis": {"x": "independent", "y": "independent"}}},
{"layer": [
 {"data": {"name": "cells"}, "transform": [{"filter": "datum.p == 16"}], "mark": "rect", "encoding": {
  "x": {"field": "t0", "type": "quantitative", "scale": {"domain": [0, 60], "nice": false, "zero": false}, "axis": {"orient": "bottom", "offset": 17, "values": [0,5,10,15,20,25,30,35,40,45,50,55,60], "tickSize": 3, "labelPadding": 5, "labelFlush": false, "labelOverlap": false, "labelBound": false, "labelBaseline": "top", "labelLineHeight": 8.5, "title": null, "labelExpr": "datum.value == 0 ? ['12:39:00','11','Aug','2022'] : datum.value == 60 ? '40:00' : datum.label"}},
  "x2": {"field": "t1"},
  "y": {"field": "f0", "type": "quantitative", "scale": {"domain": [0, 1000], "nice": false, "zero": false}, "axis": {"orient": "left", "format": "d", "values": [0,200,400,600,800,1000], "tickSize": 3, "labelPadding": 3.5, "labelFlush": true, "labelOverlap": false, "title": "Frequency (Hz)", "titleX": -40, "titleY": 82, "titleAngle": -90, "titleAlign": "center", "titleBaseline": "middle"}},
  "y2": {"field": "f1"},
  "color": {"field": "lv", "type": "nominal", "scale": {"domain": ["gap","db","b","c","g","y","o","r"], "range": ["#545454","#0000c8","#0058ff","#00c8ff","#70ff90","#ffe600","#ff9a00","#ff2000"]}, "legend": null}}},
 {"data": {"name": "panels"}, "transform": [{"filter": "datum.p == 16"}], "mark": {"type": "text", "align": "left", "baseline": "middle", "font": "Liberation Sans", "fontSize": 10, "color": "#a8a8a8"}, "encoding": {
  "text": {"field": "label"},
  "x": {"datum": -4.77, "type": "quantitative", "axis": {"orient": "bottom", "offset": 17, "tickCount": 60, "tickSize": 2, "labels": false, "domain": false, "title": null}},
  "y": {"datum": 902, "type": "quantitative", "axis": {"orient": "left", "tickCount": 20, "tickSize": 2, "labels": false, "domain": false, "title": null}}}},
 {"data": {"name": "panels"}, "transform": [{"filter": "datum.p == 16"}], "mark": {"type": "rule", "opacity": 0}, "encoding": {
  "y": {"datum": 0, "type": "quantitative", "axis": {"orient": "right", "tickCount": 20, "tickSize": 2.5, "labels": false, "domain": true, "title": null}}}}
], "resolve": {"axis": {"x": "independent", "y": "independent"}}},
{"layer": [
 {"data": {"name": "cells"}, "transform": [{"filter": "datum.p == 17"}], "mark": "rect", "encoding": {
  "x": {"field": "t0", "type": "quantitative", "scale": {"domain": [0, 60], "nice": false, "zero": false}, "axis": {"orient": "bottom", "offset": 17, "values": [0,5,10,15,20,25,30,35,40,45,50,55,60], "tickSize": 3, "labelPadding": 5, "labelFlush": false, "labelOverlap": false, "labelBound": false, "labelBaseline": "top", "labelLineHeight": 8.5, "title": null, "labelExpr": "datum.value == 0 ? ['12:40:00','11','Aug','2022'] : datum.value == 60 ? '41:00' : datum.label"}},
  "x2": {"field": "t1"},
  "y": {"field": "f0", "type": "quantitative", "scale": {"domain": [0, 1000], "nice": false, "zero": false}, "axis": {"orient": "left", "format": "d", "values": [0,200,400,600,800,1000], "tickSize": 3, "labelPadding": 3.5, "labelFlush": true, "labelOverlap": false, "title": "Frequency (Hz)", "titleX": -40, "titleY": 82, "titleAngle": -90, "titleAlign": "center", "titleBaseline": "middle"}},
  "y2": {"field": "f1"},
  "color": {"field": "lv", "type": "nominal", "scale": {"domain": ["gap","db","b","c","g","y","o","r"], "range": ["#545454","#0000c8","#0058ff","#00c8ff","#70ff90","#ffe600","#ff9a00","#ff2000"]}, "legend": null}}},
 {"data": {"name": "panels"}, "transform": [{"filter": "datum.p == 17"}], "mark": {"type": "text", "align": "left", "baseline": "middle", "font": "Liberation Sans", "fontSize": 10, "color": "#a8a8a8"}, "encoding": {
  "text": {"field": "label"},
  "x": {"datum": -4.77, "type": "quantitative", "axis": {"orient": "bottom", "offset": 17, "tickCount": 60, "tickSize": 2, "labels": false, "domain": false, "title": null}},
  "y": {"datum": 902, "type": "quantitative", "axis": {"orient": "left", "tickCount": 20, "tickSize": 2, "labels": false, "domain": false, "title": null}}}},
 {"data": {"name": "panels"}, "transform": [{"filter": "datum.p == 17"}], "mark": {"type": "rule", "opacity": 0}, "encoding": {
  "y": {"datum": 0, "type": "quantitative", "axis": {"orient": "right", "tickCount": 20, "tickSize": 2.5, "labels": false, "domain": true, "title": null}}}}
], "resolve": {"axis": {"x": "independent", "y": "independent"}}}
]
}
